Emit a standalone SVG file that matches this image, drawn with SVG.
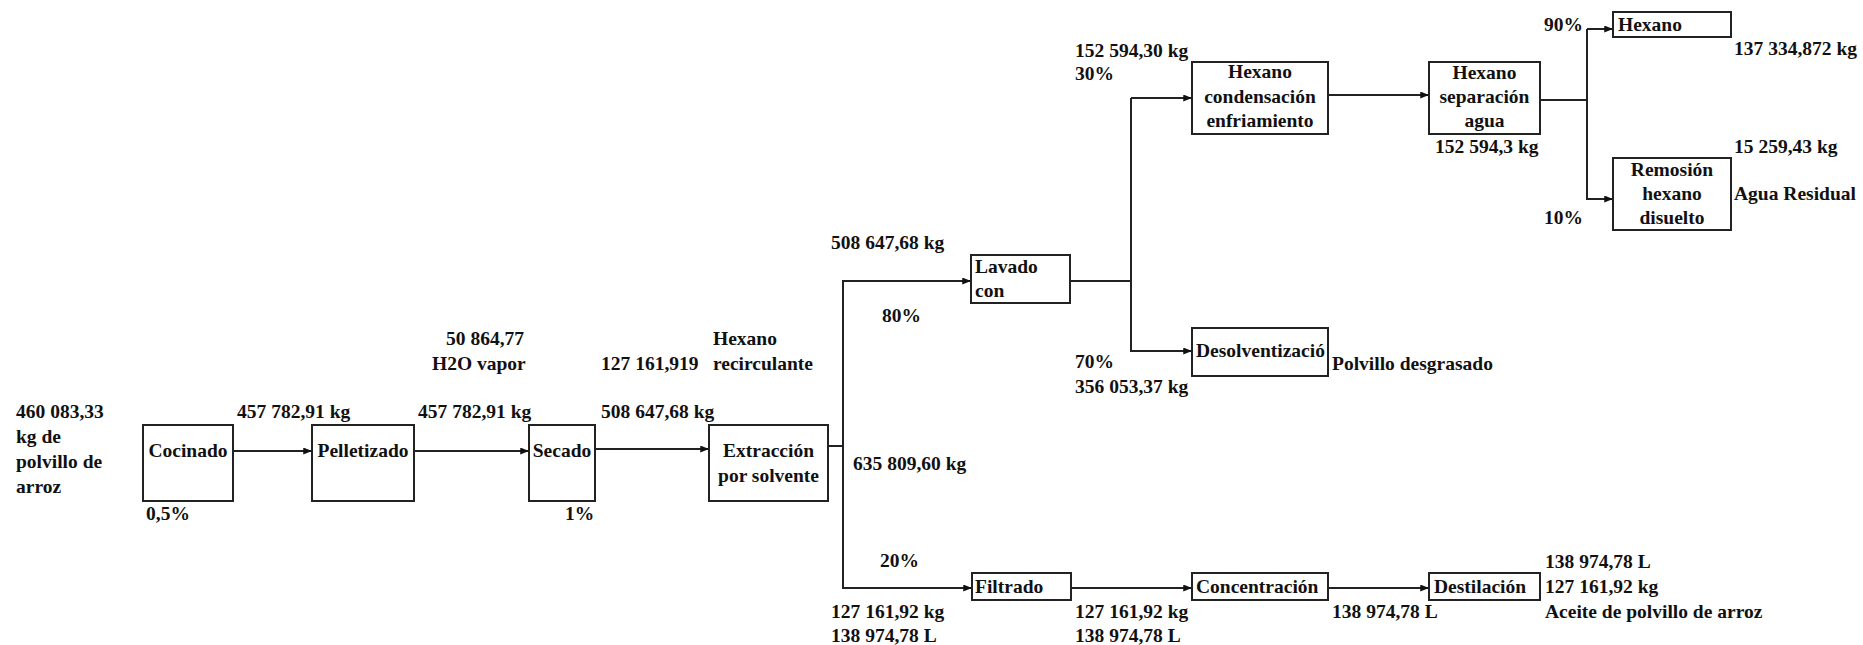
<svg xmlns="http://www.w3.org/2000/svg" width="1863" height="645" viewBox="0 0 1863 645">
<style>
.t{font-family:"Liberation Serif","Times New Roman",serif;font-weight:bold;font-size:19.5px;fill:#111}
.c{text-anchor:middle}
.box{fill:#fff;stroke:#222;stroke-width:2}
.ln{fill:none;stroke:#222;stroke-width:2}
</style>
<defs>
<marker id="ah" viewBox="0 0 10 8" refX="10" refY="4" markerWidth="9" markerHeight="7" markerUnits="userSpaceOnUse" orient="auto">
<path d="M0,0 L10,4 L0,8 z" fill="#111"/>
</marker>
</defs>
<rect width="1863" height="645" fill="#fff"/>

<g id="connectors">
<path class="ln" d="M233,451 H312" marker-end="url(#ah)"/>
<path class="ln" d="M414,451 H529" marker-end="url(#ah)"/>
<path class="ln" d="M595,449 H709" marker-end="url(#ah)"/>
<path class="ln" d="M828,446 H843"/>
<path class="ln" d="M971,281 H843 V588 H972" marker-end="url(#ah)"/>
<path class="ln" d="M843,281 H971" marker-end="url(#ah)"/>
<path class="ln" d="M1070,281 H1131"/>
<path class="ln" d="M1131,98 V351 H1192" marker-end="url(#ah)"/>
<path class="ln" d="M1131,98 H1192" marker-end="url(#ah)"/>
<path class="ln" d="M1328,95 H1429" marker-end="url(#ah)"/>
<path class="ln" d="M1540,100 H1587"/>
<path class="ln" d="M1587,29 V199 H1613" marker-end="url(#ah)"/>
<path class="ln" d="M1587,29 H1613" marker-end="url(#ah)"/>
<path class="ln" d="M1071,588 H1192" marker-end="url(#ah)"/>
<path class="ln" d="M1328,588 H1429" marker-end="url(#ah)"/>
</g>

<g id="cocinado">
<rect class="box" x="143" y="425" width="90" height="76"/>
<text class="t c" x="188" y="457">Cocinado</text>
</g>
<g id="pelletizado">
<rect class="box" x="312" y="425" width="102" height="76"/>
<text class="t c" x="363" y="457">Pelletizado</text>
</g>
<g id="secado">
<rect class="box" x="529" y="425" width="66" height="76"/>
<text class="t c" x="562" y="457">Secado</text>
</g>
<g id="extraccion">
<rect class="box" x="709" y="425" width="119" height="76"/>
<text class="t c" x="768.5" y="457">Extracción</text>
<text class="t c" x="768.5" y="482">por solvente</text>
</g>
<g id="lavado">
<rect class="box" x="971" y="255" width="99" height="48"/>
<text class="t" x="975" y="273">Lavado</text>
<text class="t" x="975" y="297">con</text>
</g>
<g id="filtrado">
<rect class="box" x="972" y="573" width="99" height="27"/>
<text class="t" x="975" y="593">Filtrado</text>
</g>
<g id="concentracion">
<rect class="box" x="1192" y="573" width="136" height="27"/>
<text class="t" x="1196" y="593">Concentración</text>
</g>
<g id="destilacion">
<rect class="box" x="1429" y="573" width="111" height="27"/>
<text class="t" x="1434" y="593">Destilación</text>
</g>
<g id="hexano-condensacion">
<rect class="box" x="1192" y="62" width="136" height="72"/>
<text class="t c" x="1260" y="78">Hexano</text>
<text class="t c" x="1260" y="103">condensación</text>
<text class="t c" x="1260" y="127">enfriamiento</text>
</g>
<g id="desolventizacion">
<rect class="box" x="1192" y="328" width="136" height="48"/>
<text class="t" x="1196" y="357">Desolventizació</text>
</g>
<g id="hexano-separacion">
<rect class="box" x="1429" y="62" width="111" height="72"/>
<text class="t c" x="1484.5" y="79">Hexano</text>
<text class="t c" x="1484.5" y="103">separación</text>
<text class="t c" x="1484.5" y="127">agua</text>
</g>
<g id="hexano">
<rect class="box" x="1613" y="12" width="118" height="25"/>
<text class="t" x="1618" y="31">Hexano</text>
</g>
<g id="remosion">
<rect class="box" x="1613" y="158" width="118" height="72"/>
<text class="t c" x="1672" y="176">Remosión</text>
<text class="t c" x="1672" y="200">hexano</text>
<text class="t c" x="1672" y="224">disuelto</text>
</g>

<g id="labels">
<text class="t" x="16" y="418">460 083,33</text>
<text class="t" x="16" y="443">kg de</text>
<text class="t" x="16" y="468">polvillo de</text>
<text class="t" x="16" y="493">arroz</text>
<text class="t" x="146" y="520">0,5%</text>
<text class="t" x="237" y="418">457 782,91 kg</text>
<text class="t" x="418" y="418">457 782,91 kg</text>
<text class="t" x="446" y="345">50 864,77</text>
<text class="t" x="432" y="370">H2O vapor</text>
<text class="t" x="565" y="520">1%</text>
<text class="t" x="601" y="370">127 161,919</text>
<text class="t" x="713" y="345">Hexano</text>
<text class="t" x="713" y="370">recirculante</text>
<text class="t" x="601" y="418">508 647,68 kg</text>
<text class="t" x="853" y="470">635 809,60 kg</text>
<text class="t" x="831" y="249">508 647,68 kg</text>
<text class="t" x="882" y="322">80%</text>
<text class="t" x="880" y="567">20%</text>
<text class="t" x="831" y="618">127 161,92 kg</text>
<text class="t" x="831" y="642">138 974,78 L</text>
<text class="t" x="1075" y="618">127 161,92 kg</text>
<text class="t" x="1075" y="642">138 974,78 L</text>
<text class="t" x="1332" y="618">138 974,78 L</text>
<text class="t" x="1545" y="568">138 974,78 L</text>
<text class="t" x="1545" y="593">127 161,92 kg</text>
<text class="t" x="1545" y="618">Aceite de polvillo de arroz</text>
<text class="t" x="1075" y="57">152 594,30 kg</text>
<text class="t" x="1075" y="80">30%</text>
<text class="t" x="1075" y="368">70%</text>
<text class="t" x="1075" y="393">356 053,37 kg</text>
<text class="t" x="1332" y="370">Polvillo desgrasado</text>
<text class="t" x="1435" y="153">152 594,3 kg</text>
<text class="t" x="1544" y="31">90%</text>
<text class="t" x="1544" y="224">10%</text>
<text class="t" x="1734" y="55">137 334,872 kg</text>
<text class="t" x="1734" y="153">15 259,43 kg</text>
<text class="t" x="1734" y="200">Agua Residual</text>
</g>
</svg>
